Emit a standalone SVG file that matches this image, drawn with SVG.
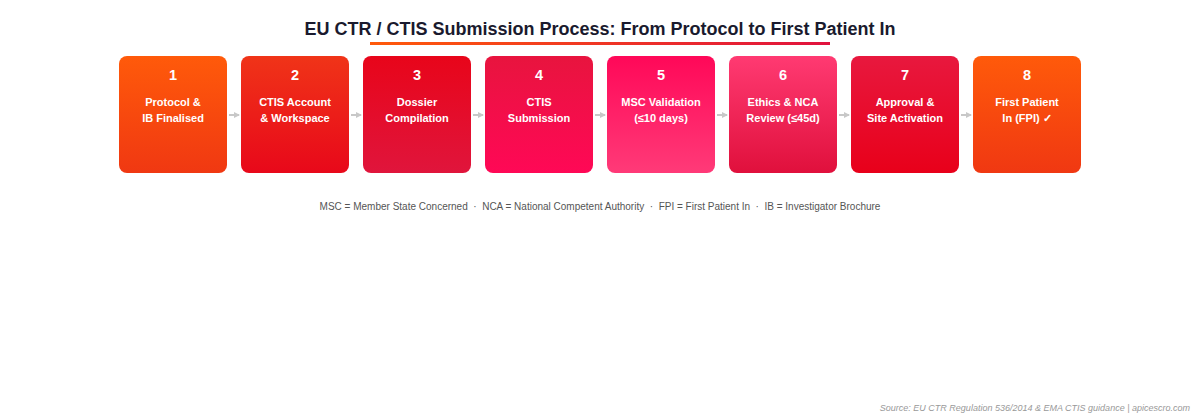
<svg xmlns="http://www.w3.org/2000/svg" width="1200" height="420" viewBox="0 0 1200 420">
<defs>
<linearGradient id="gTitle" x1="0" y1="0" x2="1" y2="0"><stop offset="0" stop-color="#FF5A0A"/><stop offset="1" stop-color="#E0123E"/></linearGradient>
<linearGradient id="g1" x1="0" y1="0" x2="0" y2="1"><stop offset="0" stop-color="#FF5A0A"/><stop offset="1" stop-color="#F03812"/></linearGradient>
<linearGradient id="g2" x1="0" y1="0" x2="0" y2="1"><stop offset="0" stop-color="#F03418"/><stop offset="1" stop-color="#E8081A"/></linearGradient>
<linearGradient id="g3" x1="0" y1="0" x2="0" y2="1"><stop offset="0" stop-color="#E8051A"/><stop offset="1" stop-color="#E0153C"/></linearGradient>
<linearGradient id="g4" x1="0" y1="0" x2="0" y2="1"><stop offset="0" stop-color="#E8143E"/><stop offset="1" stop-color="#FF0856"/></linearGradient>
<linearGradient id="g5" x1="0" y1="0" x2="0" y2="1"><stop offset="0" stop-color="#FF0858"/><stop offset="1" stop-color="#FF3A78"/></linearGradient>
<linearGradient id="g6" x1="0" y1="0" x2="0" y2="1"><stop offset="0" stop-color="#FF3A72"/><stop offset="1" stop-color="#E0103C"/></linearGradient>
<linearGradient id="g7" x1="0" y1="0" x2="0" y2="1"><stop offset="0" stop-color="#E8183E"/><stop offset="1" stop-color="#E8001A"/></linearGradient>
<marker id="ah" markerWidth="6" markerHeight="6" refX="5" refY="3" orient="auto" markerUnits="userSpaceOnUse"><path d="M0,0 L6,3 L0,6 Z" fill="#C8C8C8"/></marker>
</defs>
<style>
.title{font-family:"Liberation Sans",Arial,sans-serif;font-size:18px;font-weight:bold;fill:#1A1A2E;text-anchor:middle}
.num{font-family:"Liberation Sans",Arial,sans-serif;font-size:14.5px;font-weight:bold;fill:#FFFFFF;text-anchor:middle}
.lbl{font-family:"Liberation Sans",Arial,sans-serif;font-size:11px;font-weight:bold;fill:#FFFFFF;text-anchor:middle}
.note{font-family:"Liberation Sans",Arial,sans-serif;font-size:10px;fill:#555555;text-anchor:middle;white-space:pre}
.src{font-family:"Liberation Sans",Arial,sans-serif;font-size:9px;font-style:italic;fill:#999999;text-anchor:end}
.conn{stroke:#C8C8C8;stroke-width:2;fill:none}
</style>
<rect width="1200" height="420" fill="#FFFFFF"/>
<text class="title" x="600" y="35">EU CTR / CTIS Submission Process: From Protocol to First Patient In</text>
<rect x="370" y="42" width="460" height="3" fill="url(#gTitle)"/>
<g id="connectors">
<line class="conn" x1="229" y1="115" x2="239" y2="115" marker-end="url(#ah)"/>
<line class="conn" x1="351" y1="115" x2="361" y2="115" marker-end="url(#ah)"/>
<line class="conn" x1="473" y1="115" x2="483" y2="115" marker-end="url(#ah)"/>
<line class="conn" x1="595" y1="115" x2="605" y2="115" marker-end="url(#ah)"/>
<line class="conn" x1="717" y1="115" x2="727" y2="115" marker-end="url(#ah)"/>
<line class="conn" x1="839" y1="115" x2="849" y2="115" marker-end="url(#ah)"/>
<line class="conn" x1="961" y1="115" x2="971" y2="115" marker-end="url(#ah)"/>
</g>
<g id="step1"><rect x="119" y="56" width="108" height="117" rx="8" fill="url(#g1)"/><text class="num" x="173" y="80">1</text><text class="lbl" x="173" y="106">Protocol &amp;</text><text class="lbl" x="173" y="122">IB Finalised</text></g>
<g id="step2"><rect x="241" y="56" width="108" height="117" rx="8" fill="url(#g2)"/><text class="num" x="295" y="80">2</text><text class="lbl" x="295" y="106">CTIS Account</text><text class="lbl" x="295" y="122">&amp; Workspace</text></g>
<g id="step3"><rect x="363" y="56" width="108" height="117" rx="8" fill="url(#g3)"/><text class="num" x="417" y="80">3</text><text class="lbl" x="417" y="106">Dossier</text><text class="lbl" x="417" y="122">Compilation</text></g>
<g id="step4"><rect x="485" y="56" width="108" height="117" rx="8" fill="url(#g4)"/><text class="num" x="539" y="80">4</text><text class="lbl" x="539" y="106">CTIS</text><text class="lbl" x="539" y="122">Submission</text></g>
<g id="step5"><rect x="607" y="56" width="108" height="117" rx="8" fill="url(#g5)"/><text class="num" x="661" y="80">5</text><text class="lbl" x="661" y="106">MSC Validation</text><text class="lbl" x="661" y="122">(≤10 days)</text></g>
<g id="step6"><rect x="729" y="56" width="108" height="117" rx="8" fill="url(#g6)"/><text class="num" x="783" y="80">6</text><text class="lbl" x="783" y="106">Ethics &amp; NCA</text><text class="lbl" x="783" y="122">Review (≤45d)</text></g>
<g id="step7"><rect x="851" y="56" width="108" height="117" rx="8" fill="url(#g7)"/><text class="num" x="905" y="80">7</text><text class="lbl" x="905" y="106">Approval &amp;</text><text class="lbl" x="905" y="122">Site Activation</text></g>
<g id="step8"><rect x="973" y="56" width="108" height="117" rx="8" fill="url(#g1)"/><text class="num" x="1027" y="80">8</text><text class="lbl" x="1027" y="106">First Patient</text><text class="lbl" x="1027" y="122">In (FPI) ✓</text></g>
<text class="note" x="600" y="210" xml:space="preserve">MSC = Member State Concerned  ·  NCA = National Competent Authority  ·  FPI = First Patient In  ·  IB = Investigator Brochure</text>
<text class="src" x="1190" y="411">Source: EU CTR Regulation 536/2014 &amp; EMA CTIS guidance | apicescro.com</text>
</svg>
